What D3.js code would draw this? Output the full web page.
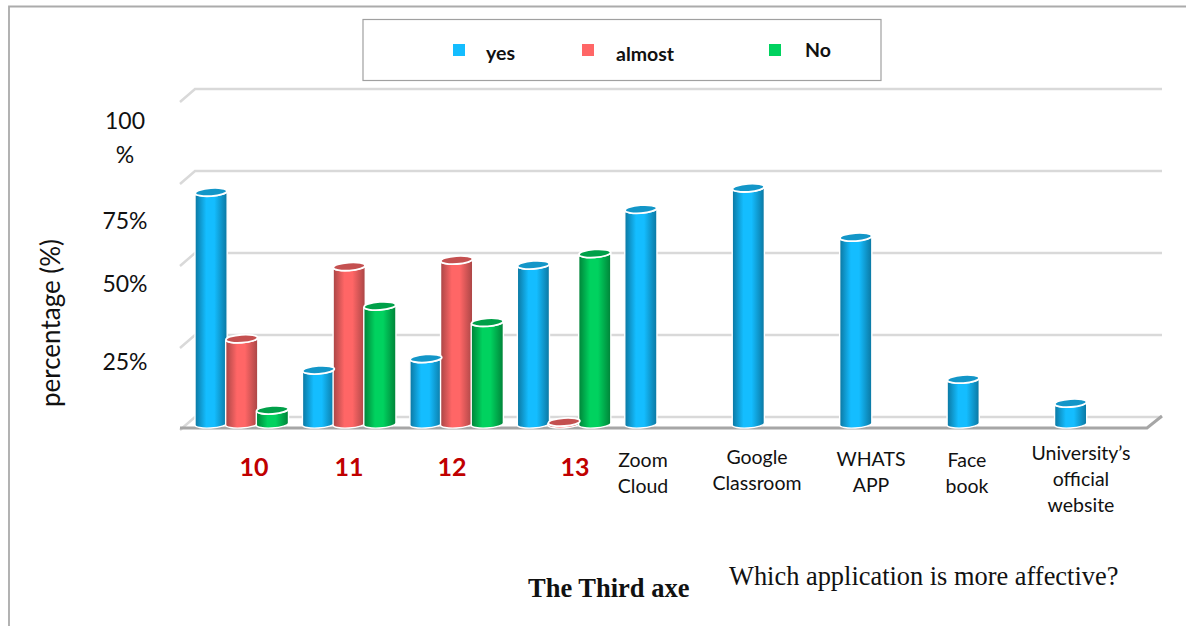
<!DOCTYPE html>
<html>
<head>
<meta charset="utf-8">
<script src="https://cdn.jsdelivr.net/npm/d3@7"></script>
<style>
html, body { margin: 0; padding: 0; background: #fff; }
svg { display: block; }
.cal { font-family: Lato, "Open Sans", sans-serif; }
.times { font-family: "Liberation Serif", serif; }
</style>
</head>
<body>
<svg id="chart" width="1186" height="626"></svg>
<script>
var categories = ["10", "11", "12", "13", "Zoom Cloud", "Google Classroom", "WHATS APP", "Face book", "University’s official website"];
var seriesNames = ["yes", "almost", "No"];
var yes = [70.7, 16.5, 20, 48.5, 65.5, 72, 57, 13.7, 6.4];
var almost = [26, 48, 50, 0.6, null, null, null, null, null];
var no = [4.3, 36, 31, 52, null, null, null, null, null];
var yTicks = [0, 25, 50, 75, 100];
var yTickLabels = ["25%", "50%", "75%", "100 %"];

var svg = d3.select("#chart");

// page frame
svg.append("path")
    .attr("d", "M9,626V6.5H1186")
    .attr("fill", "none")
    .attr("stroke", "#ababab")
    .attr("stroke-width", 1.8);

var depthX = 15, depthY = 13;

var x = d3.scaleBand()
    .domain(categories)
    .range([180, 1147]);

var xSeries = d3.scaleBand()
    .domain(seriesNames)
    .range([15, 107]);

var yWall = d3.scaleLinear().domain([0, 100]).range([417, 89]);
var yBar = d3.scaleLinear().domain([0, 100]).range([425, 97]);

var color = d3.scaleOrdinal().domain(seriesNames).range(["#14bdff", "#ff6666", "#00d25f"]);
var dark = d3.scaleOrdinal().domain(seriesNames).range(["#0b76a0", "#a84545", "#008238"]);
var capColor = d3.scaleOrdinal().domain(seriesNames).range(["#1396c8", "#c45050", "#00a049"]);

// cylinder shading, dark at both edges
var defs = svg.append("defs");
seriesNames.forEach(function(s, i) {
    var g = defs.append("linearGradient").attr("id", "grad" + i);
    g.append("stop").attr("offset", "0%").attr("stop-color", dark(s));
    g.append("stop").attr("offset", "35%").attr("stop-color", color(s));
    g.append("stop").attr("offset", "60%").attr("stop-color", color(s));
    g.append("stop").attr("offset", "100%").attr("stop-color", dark(s));
});

// walls
var grid = svg.append("g").attr("fill", "none");
var x0 = x.range()[0], x1 = x.range()[1];
grid.selectAll(".back")
    .data(yTicks)
    .enter().append("path")
    .attr("class", "back")
    .attr("d", function(d) {
        return "M" + x0 + "," + (yWall(d) + depthY) + "L" + (x0 + depthX) + "," + yWall(d) + "H" + (x1 + depthX);
    })
    .attr("stroke", "#d9d9d9")
    .attr("stroke-width", 2.5);

// floor
grid.append("path")
    .attr("d", "M" + x0 + "," + (yWall(0) + 11) + "H" + x1 + "L" + (x1 + depthX) + "," + (yWall(0) - 1))
    .attr("stroke", "#a6a6a6")
    .attr("stroke-width", 3);

// bars
var rows = [yes, almost, no];
var ry = 4, tilt = 2;

function bodyPath(d) {
    var left = x(d.cat) + xSeries(d.s),
        right = left + xSeries.bandwidth() + 1.5,
        r = (right - left) / 2,
        top = yBar(d.v),
        base = yBar(0);
    return "M" + left + "," + top + "L" + left + "," + base +
        "A" + r + "," + ry + " -4 0 0 " + right + "," + (base - tilt) +
        "L" + right + "," + (top - tilt) +
        "A" + r + "," + ry + " -4 0 1 " + left + "," + top + "Z";
}

var bars = [];
categories.forEach(function(cat, c) {
    seriesNames.forEach(function(s, i) {
        if (rows[i][c] != null) bars.push({cat: cat, s: s, i: i, v: rows[i][c]});
    });
});

var barG = svg.append("g");
barG.selectAll(".body")
    .data(bars)
    .enter().append("path")
    .attr("class", "body")
    .attr("d", bodyPath)
    .attr("fill", function(d) { return "url(#grad" + d.i + ")"; })
    .attr("stroke", "#fff")
    .attr("stroke-width", 1.4);

function capX(d) { return x(d.cat) + xSeries(d.s) + xSeries.bandwidth() / 2 + 0.75; }

barG.selectAll(".cap")
    .data(bars)
    .enter().append("ellipse")
    .attr("class", "cap")
    .attr("cx", capX)
    .attr("cy", function(d) { return yBar(d.v) - tilt / 2; })
    .attr("rx", xSeries.bandwidth() / 2 + 0.5)
    .attr("ry", ry)
    .attr("transform", function(d) {
        return "rotate(-4," + capX(d) + "," + (yBar(d.v) - tilt / 2) + ")";
    })
    .attr("fill", function(d) { return capColor(d.s); })
    .attr("stroke", "#fff")
    .attr("stroke-width", 1.8);

// y tick labels sit loosely in the original, hand placed
var tickSpots = [[125, 362], [125, 284], [125, 221], [125, 121]];
yTickLabels.forEach(function(t, i) {
    var lines = t.split(" ");
    lines.forEach(function(line, j) {
        svg.append("text")
            .attr("class", "cal")
            .attr("x", tickSpots[i][0])
            .attr("y", tickSpots[i][1] + 8 + j * 34)
            .attr("text-anchor", "middle")
            .attr("font-size", 23)
            .attr("fill", "#111")
            .text(line);
    });
});

svg.append("text")
    .attr("class", "cal")
    .attr("transform", "translate(60,323) rotate(-90)")
    .attr("text-anchor", "middle")
    .attr("font-size", 26)
    .attr("fill", "#111")
    .text("percentage (%)");

// category labels, also hand placed
var labelX = [254, 349, 452, 575, 643, 757, 871, 967, 1081];
var labelY = [476, 476, 476, 476, 467, 464, 466, 467, 460];
var labelLines = [["10"], ["11"], ["12"], ["13"], ["Zoom", "Cloud"], ["Google", "Classroom"], ["WHATS", "APP"], ["Face", "book"], ["University’s", "official", "website"]];
categories.forEach(function(cat, c) {
    labelLines[c].forEach(function(line, j) {
        svg.append("text")
            .attr("class", "cal")
            .attr("x", labelX[c])
            .attr("y", labelY[c] + j * 26)
            .attr("text-anchor", "middle")
            .attr("font-size", c < 4 ? 25 : 19.5)
            .attr("font-weight", c < 4 ? "bold" : "normal")
            .attr("fill", c < 4 ? "#c00000" : "#111")
            .text(line);
    });
});

// legend
svg.append("rect")
    .attr("x", 363).attr("y", 19.5)
    .attr("width", 518).attr("height", 61)
    .attr("fill", "#fff")
    .attr("stroke", "#a0a0a0")
    .attr("stroke-width", 1.2);

var legendSwatch = [453, 582, 769];
var legendText = [[486, 60], [616, 61], [805, 57]];
seriesNames.forEach(function(s, i) {
    svg.append("rect")
        .attr("x", legendSwatch[i]).attr("y", 44)
        .attr("width", 12).attr("height", 12)
        .attr("fill", color(s));
    svg.append("text")
        .attr("class", "cal")
        .attr("x", legendText[i][0]).attr("y", legendText[i][1])
        .attr("font-size", 19.5)
        .attr("font-weight", "bold")
        .attr("fill", "#111")
        .text(s);
});

svg.append("text")
    .attr("class", "times")
    .attr("x", 528).attr("y", 597)
    .attr("font-size", 26.5)
    .attr("font-weight", "bold")
    .attr("fill", "#111")
    .text("The Third axe");

svg.append("text")
    .attr("class", "times")
    .attr("x", 729).attr("y", 585)
    .attr("font-size", 26.4)
    .attr("fill", "#111")
    .text("Which application is more affective?");
</script>
</body>
</html>
